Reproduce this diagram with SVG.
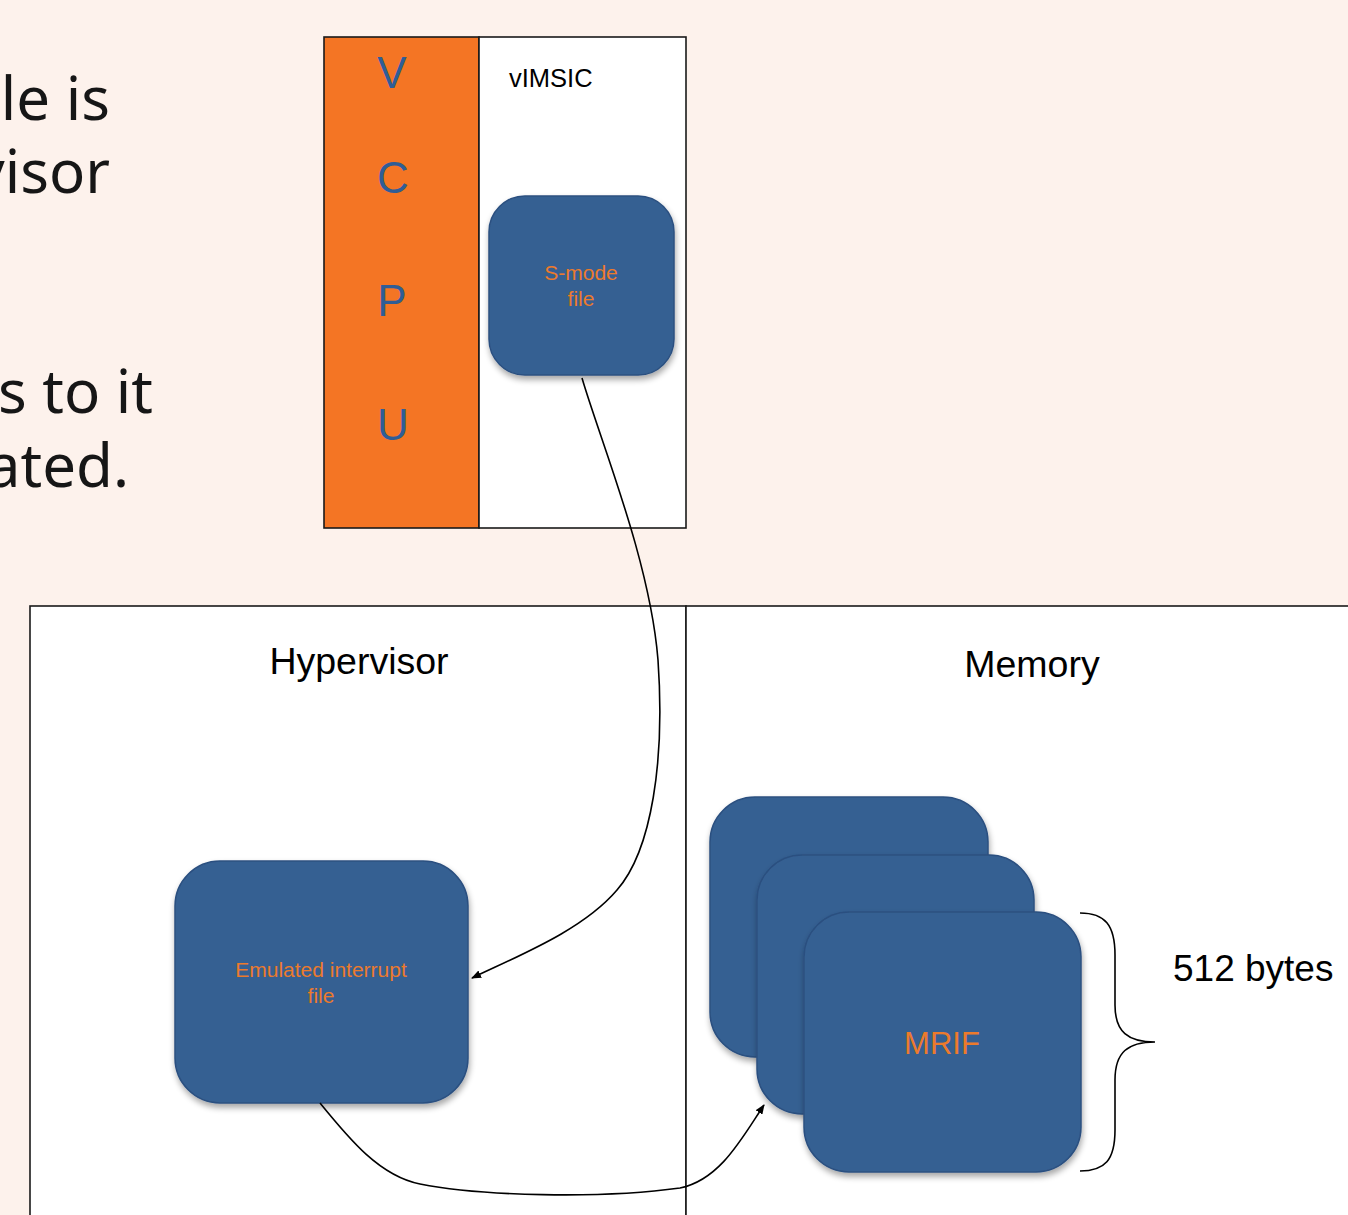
<svg xmlns="http://www.w3.org/2000/svg" width="1348" height="1215" viewBox="0 0 1348 1215">
  <defs>
    <style>
      .bg { fill: #fdf2ec; }
      .frame { fill: #ffffff; stroke: #1a1a1a; stroke-width: 1.6; }
      .file { fill: #366092; stroke: #2b5080; stroke-width: 1.5; filter: url(#shadow); }
      .lead { font-family: "Noto Sans", "Open Sans", sans-serif; font-size: 60px; fill: #161616; text-anchor: end; }
      .label { font-family: "Liberation Sans", Arial, sans-serif; fill: #000000; }
      .ftext { font-family: "Liberation Sans", Arial, sans-serif; fill: #ec7a2c; text-anchor: middle; }
      .vcpu { font-family: "Liberation Sans", Arial, sans-serif; font-size: 44px; fill: #2f5d96; text-anchor: middle; }
      .conn { fill: none; stroke: #000000; stroke-width: 1.6; }
    </style>
    <filter id="shadow" x="-10%" y="-10%" width="125%" height="125%">
      <feGaussianBlur in="SourceAlpha" stdDeviation="3"/>
      <feOffset dx="1" dy="4" result="b"/>
      <feComponentTransfer><feFuncA type="linear" slope="0.35"/></feComponentTransfer>
      <feMerge><feMergeNode/><feMergeNode in="SourceGraphic"/></feMerge>
    </filter>
    <marker id="arrow" markerWidth="10" markerHeight="8" refX="9" refY="4" orient="auto" markerUnits="userSpaceOnUse">
      <path d="M0,0 L10,4 L0,8 Z" fill="#000000"/>
    </marker>
  </defs>

  <rect class="bg" x="0" y="0" width="1348" height="1215"/>

  <!-- slide body text, running off the left edge -->
  <g id="slide-text">
    <text class="lead" x="110" y="120">le is</text>
    <text class="lead" x="110" y="193">visor</text>
    <text class="lead" x="153" y="413">s to it</text>
    <text class="lead" x="129" y="487">ated.</text>
  </g>

  <!-- virtual CPU column -->
  <g id="vcpu">
    <rect x="324" y="37" width="155" height="491" fill="#f47524" stroke="#1a1a1a" stroke-width="1.6"/>
    <text class="vcpu" x="392" y="88">V</text>
    <text class="vcpu" x="393" y="193">C</text>
    <text class="vcpu" x="392" y="316">P</text>
    <text class="vcpu" x="393" y="440">U</text>
  </g>

  <g id="vimsic">
    <rect class="frame" x="479" y="37" width="207" height="491"/>
    <text class="label" x="509" y="87" font-size="25.5">vIMSIC</text>
  </g>

  <g id="smode-file">
    <rect class="file" x="489" y="196" width="185" height="179" rx="36"/>
    <text class="ftext" x="581" y="280" font-size="21">S-mode</text>
    <text class="ftext" x="581" y="306" font-size="21">file</text>
  </g>

  <g id="hypervisor">
    <rect class="frame" x="30" y="606" width="656" height="640"/>
    <text class="label" x="359" y="674" font-size="37.5" text-anchor="middle">Hypervisor</text>
  </g>

  <g id="memory">
    <rect class="frame" x="686" y="606" width="700" height="640"/>
    <text class="label" x="1032" y="677" font-size="37.5" text-anchor="middle">Memory</text>
  </g>

  <g id="emulated-file">
    <rect class="file" x="175" y="861" width="293" height="242" rx="45"/>
    <text class="ftext" x="321" y="977" font-size="21">Emulated interrupt</text>
    <text class="ftext" x="321" y="1003" font-size="21">file</text>
  </g>

  <!-- stack of memory-resident interrupt files -->
  <g id="mrif-stack">
    <rect class="file" x="710" y="797" width="278" height="260" rx="45"/>
    <rect class="file" x="757" y="855" width="277" height="259" rx="45"/>
    <rect class="file" x="804" y="912" width="277" height="260" rx="45"/>
    <text class="ftext" x="942" y="1054" font-size="31">MRIF</text>
  </g>

  <g id="size-brace">
    <path class="conn" d="M1080,913 C1105,913 1115,925 1115,955 L1115,1005 C1115,1032 1128,1042 1155,1042 C1128,1042 1115,1052 1115,1080 L1115,1130 C1115,1160 1105,1171 1080,1171"/>
    <text class="label" x="1173" y="981" font-size="37">512 bytes</text>
  </g>

  <g id="connectors">
    <path class="conn" marker-end="url(#arrow)" d="M582,378 C600,440 650,560 658,660 C665,760 652,850 617,890 C583,930 520,955 472,978"/>
    <path class="conn" marker-end="url(#arrow)" d="M320,1103 C350,1140 380,1176 420,1184 C480,1196 600,1199 680,1188 C720,1180 742,1138 764,1105"/>
  </g>
</svg>
